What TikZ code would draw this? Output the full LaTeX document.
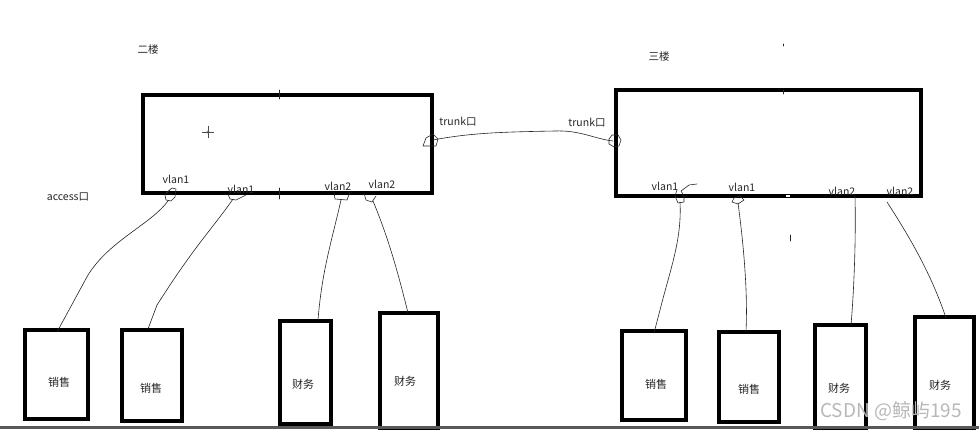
\documentclass[tikz,border=0pt]{standalone}
\usepackage{fontspec}
\setmainfont{Noto Sans CJK SC}
\begin{document}
\begin{tikzpicture}[x=1pt,y=-1pt,
  box/.style={draw=black,line width=3.8pt,inner sep=0pt},
  wire/.style={draw=black!85,line width=0.6pt,line join=round,line cap=round},
  lbl/.style={font=\fontsize{10.5}{12}\selectfont,inner sep=0pt,text=black!85},
  pclbl/.style={font=\fontsize{11}{12}\selectfont,inner sep=0pt,text=black!85}]
\useasboundingbox (0,0) rectangle (979,429);
\fill[white] (0,0) rectangle (979,429);
% switches
\node[box,minimum width=289pt,minimum height=98pt] (swA) at (287.5,144) {};
\node[box,minimum width=305pt,minimum height=106pt] (swB) at (768.5,143) {};
% PCs
\node[box,minimum width=63pt,minimum height=89pt] (p1) at (56.5,374.5) {};
\node[box,minimum width=60pt,minimum height=91pt] (p2) at (152,375.5) {};
\node[box,minimum width=51pt,minimum height=103pt] (p3) at (305.5,372.5) {};
\node[box,minimum width=58pt,minimum height=117pt] (p4) at (409,371.5) {};
\node[box,minimum width=64pt,minimum height=89pt] (p5) at (654,375.5) {};
\node[box,minimum width=60pt,minimum height=90pt] (p6) at (749,377) {};
\node[box,minimum width=51pt,minimum height=105pt] (p7) at (840.5,377.5) {};
\node[box,minimum width=59pt,minimum height=113pt] (p8) at (944.5,373.5) {};
% PC labels
\node[pclbl] (t1) at (59,382) {销售};
\node[pclbl] (t2) at (151,388) {销售};
\node[pclbl] (t3) at (303,384) {财务};
\node[pclbl] (t4) at (405,381) {财务};
\node[pclbl] (t5) at (656,384) {销售};
\node[pclbl] (t6) at (749,389) {销售};
\node[pclbl] (t7) at (839,388) {财务};
\node[pclbl] (t8) at (940,385) {财务};
% titles
\node[lbl] (f2) at (148,50) {二楼};
\node[lbl] (f3) at (659,57) {三楼};
\node[lbl] (acc) at (68,197) {access口};
\node[lbl] (trA) at (458,122) {trunk口};
\node[lbl] (trB) at (587,123) {trunk口};
% vlan labels
\node[lbl] (va1) at (176,179) {vlan1};
\node[lbl] (va2) at (241,189) {vlan1};
\node[lbl] (va3) at (338,186) {vlan2};
\node[lbl] (va4) at (382,184) {vlan2};
\node[lbl] (vb1) at (665,186) {vlan1};
\node[lbl] (vb2) at (742,187) {vlan1};
\node[lbl] (vb3) at (842,191) {vlan2};
\node[lbl] (vb4) at (900,191) {vlan2};
% port coordinates
\coordinate (a1) at (168,201);
\coordinate (a2) at (233,199);
\coordinate (a3) at (341,200);
\coordinate (a4) at (373,201);
\coordinate (b1) at (680,202);
\coordinate (b2) at (738,203);
\coordinate (b3) at (855,196);
\coordinate (b4) at (887,202);
\coordinate (ta) at (433,140);
\coordinate (tb) at (613,141);
% port scribbles
\draw[wire] (166,193) -- (172,188) -- (176,189) -- (175,197) -- (171,201) -- (166,200) -- (165,195) -- (170,190);
\draw[wire] (228,194) -- (230,199) -- (236,200) -- (246,195);
\draw[wire] (334,192) -- (335,199) -- (347,200) -- (350,192);
\draw[wire] (364,193) -- (366,200) -- (372,202) -- (376,196);
\draw[wire] (677,190) -- (675,196) -- (678,203) -- (684,202) -- (684,196) -- (681,191) -- (689,185) -- (697,184);
\draw[wire] (732,202) -- (734,198) -- (740,196) -- (744,200) -- (738,204) -- cycle;
\draw[wire] (423,146) -- (426,138) -- (433,134) -- (438,139) -- (436,146) -- cycle;
\draw[wire] (609,139) -- (612,135) -- (618,135) -- (621,140) -- (619,146) -- (614,147) -- (609,144) -- cycle;
% trunk link
\draw[wire] (ta) .. controls (470,133) and (500,132) .. (555,131) .. controls (580,130) and (595,139) .. (tb);
% access wires
\draw[wire] (a1) .. controls (150,225) and (110,240) .. (88,275) -- (57,332);
\draw[wire] (a2) .. controls (215,225) and (200,240) .. (170,285) -- (157,305) -- (148,329);
\draw[wire] (a3) .. controls (332,240) and (322,270) .. (318,320);
\draw[wire] (a4) .. controls (385,230) and (395,260) .. (408,313);
\draw[wire] (b1) .. controls (682,240) and (670,270) .. (660,310) -- (654,333);
\draw[wire] (b2) .. controls (743,240) and (748,290) .. (746,331);
\draw[wire] (b3) .. controls (856,240) and (854,290) .. (851,325);
\draw[wire] (b4) .. controls (905,230) and (930,270) .. (946,318);
% stray marks
\draw[wire] (279,90) -- (279,99);
\draw[wire] (279,188) -- (279,199);
\draw[draw=black!70,line width=0.4pt] (202,132) -- (214,132) (208,126) -- (208,138);
\draw[draw=black!70,line width=0.4pt] (208,132) circle (1.3pt);
\draw[wire] (783,44) -- (783,46);
\draw[wire] (783,90) -- (783,94);
\fill[white] (785.5,194.5) rectangle (790,197);
\draw[wire] (790,235) -- (790,241);
% watermark
\node[font=\fontsize{19}{21}\selectfont,text=black!28,inner sep=0pt] (wm) at (891,411) {CSDN @鲸屿195};
% bottom edge
\fill[black!65] (0,426) rectangle (979,429);
\end{tikzpicture}
\end{document}
